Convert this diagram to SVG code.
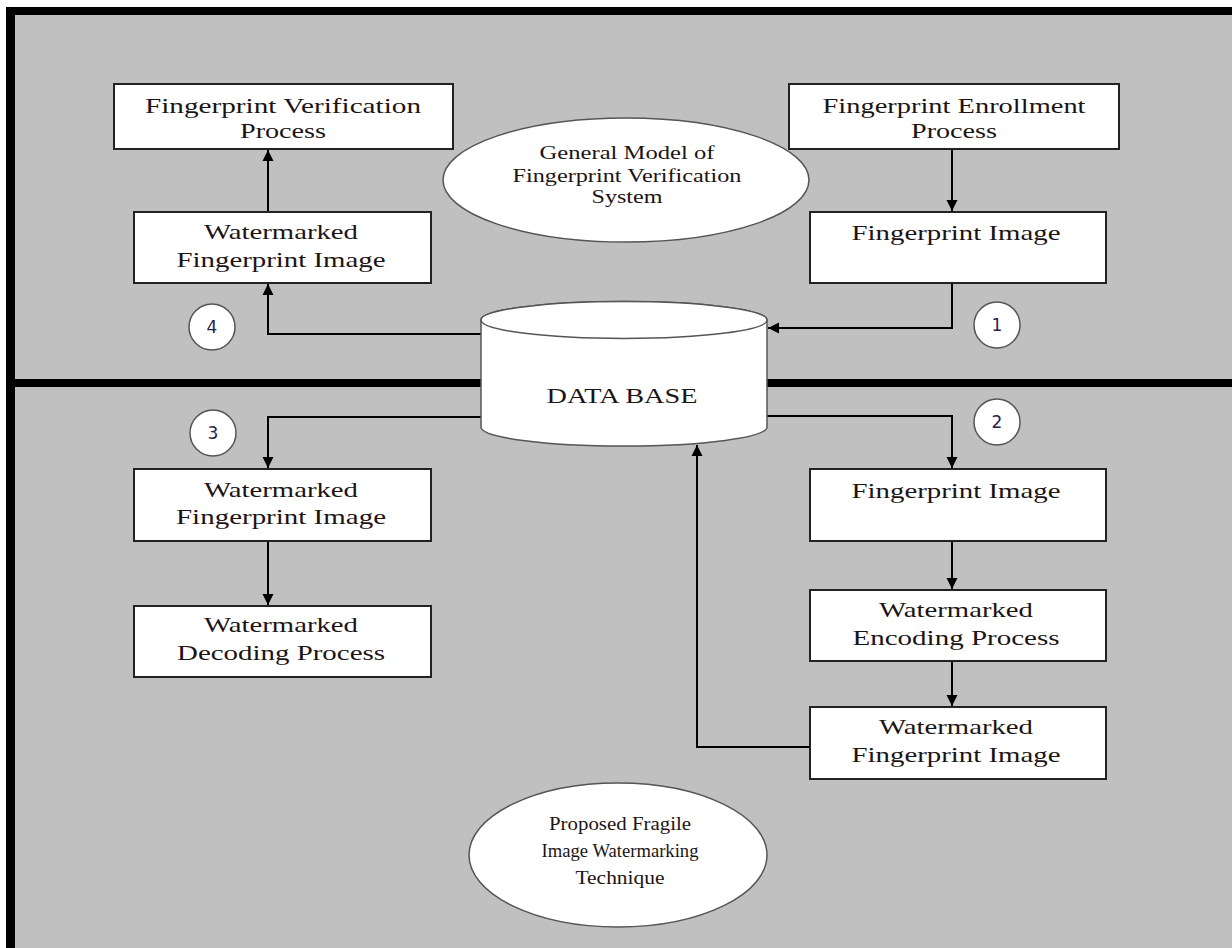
<svg xmlns="http://www.w3.org/2000/svg" width="1232" height="948" viewBox="0 0 1232 948">
  <style>
    .box { fill: #ffffff; stroke: #222222; stroke-width: 2; }
    .oval { fill: #ffffff; stroke: #555555; stroke-width: 1.5; }
    .num { fill: #ffffff; stroke: #555555; stroke-width: 1.5; }
    .lbl { font-family: "Liberation Serif", "Times New Roman", serif; font-size: 22px; fill: #1c1414; text-anchor: middle; }
    .sm { font-family: "Liberation Serif", "Times New Roman", serif; font-size: 18px; fill: #1c1414; text-anchor: middle; }
    .digit { font-family: "DejaVu Sans", Verdana, sans-serif; font-size: 17px; fill: #2a2050; text-anchor: middle; }
    .wire { fill: none; stroke: #000000; stroke-width: 2; marker-end: url(#arrow); }
  </style>
  <defs>
    <marker id="arrow" markerUnits="userSpaceOnUse" markerWidth="12" markerHeight="12" refX="11" refY="6" orient="auto">
      <path d="M0,0.5 L11,6 L0,11.5 z" fill="#000000"/>
    </marker>
  </defs>

  <!-- page, frame and the band separating the two sections -->
  <rect x="0" y="0" width="1232" height="948" fill="#ffffff"/>
  <rect x="6" y="7" width="1226" height="941" fill="#000000"/>
  <rect x="15" y="15" width="1217" height="933" fill="#c0c0c0"/>
  <rect x="15" y="379" width="1217" height="8" fill="#000000"/>

  <!-- connectors -->
  <g id="connectors">
    <path class="wire" d="M268,212 V150"/>
    <path class="wire" d="M952,149 V211"/>
    <path class="wire" d="M952,283 V328 H768"/>
    <path class="wire" d="M481,334 H268 V284"/>
    <path class="wire" d="M481,417 H268 V468"/>
    <path class="wire" d="M767,416 H952 V468"/>
    <path class="wire" d="M952,541 V589"/>
    <path class="wire" d="M952,661 V706"/>
    <path class="wire" d="M268,541 V605"/>
    <path class="wire" d="M810,747 H697 V445"/>
  </g>

  <!-- upper section: general model -->
  <g id="verification-process">
    <rect class="box" x="114" y="84" width="339" height="65"/>
    <text class="lbl" x="283" y="113" textLength="276" lengthAdjust="spacingAndGlyphs">Fingerprint Verification</text>
    <text class="lbl" x="283" y="138" textLength="86" lengthAdjust="spacingAndGlyphs">Process</text>
  </g>

  <g id="enrollment-process">
    <rect class="box" x="789" y="84" width="330" height="65"/>
    <text class="lbl" x="954" y="113" textLength="263" lengthAdjust="spacingAndGlyphs">Fingerprint Enrollment</text>
    <text class="lbl" x="954" y="138" textLength="86" lengthAdjust="spacingAndGlyphs">Process</text>
  </g>

  <g id="general-model">
    <ellipse class="oval" cx="626" cy="180" rx="183" ry="62"/>
    <text class="sm" x="627" y="159" textLength="175" lengthAdjust="spacingAndGlyphs">General Model of</text>
    <text class="sm" x="627" y="182" textLength="229" lengthAdjust="spacingAndGlyphs">Fingerprint Verification</text>
    <text class="sm" x="627" y="203" textLength="71" lengthAdjust="spacingAndGlyphs">System</text>
  </g>

  <g id="watermarked-image-top">
    <rect class="box" x="134" y="212" width="297" height="71"/>
    <text class="lbl" x="281" y="239" textLength="154" lengthAdjust="spacingAndGlyphs">Watermarked</text>
    <text class="lbl" x="281" y="267" textLength="209" lengthAdjust="spacingAndGlyphs">Fingerprint Image</text>
  </g>

  <g id="fingerprint-image-top">
    <rect class="box" x="810" y="212" width="296" height="71"/>
    <text class="lbl" x="956" y="240" textLength="209" lengthAdjust="spacingAndGlyphs">Fingerprint Image</text>
  </g>

  <g id="step-4">
    <circle class="num" cx="212" cy="327" r="23"/>
    <text class="digit" x="212" y="333">4</text>
  </g>
  <g id="step-1">
    <circle class="num" cx="997" cy="325" r="23"/>
    <text class="digit" x="997" y="331">1</text>
  </g>

  <!-- shared data store -->
  <g id="database">
    <path class="oval" d="M481,320 V427 A143,19 0 0 0 767,427 V320 A143,18.5 0 0 0 481,320 z"/>
    <ellipse class="oval" cx="624" cy="320" rx="143" ry="18.5"/>
    <text class="lbl" x="622" y="403" font-size="20" textLength="151" lengthAdjust="spacingAndGlyphs">DATA BASE</text>
  </g>

  <!-- lower section: proposed technique -->
  <g id="step-3">
    <circle class="num" cx="213" cy="433" r="23"/>
    <text class="digit" x="213" y="439">3</text>
  </g>
  <g id="step-2">
    <circle class="num" cx="997" cy="422" r="23"/>
    <text class="digit" x="997" y="428">2</text>
  </g>

  <g id="watermarked-image-left">
    <rect class="box" x="134" y="469" width="297" height="72"/>
    <text class="lbl" x="281" y="497" textLength="154" lengthAdjust="spacingAndGlyphs">Watermarked</text>
    <text class="lbl" x="281" y="524" textLength="210" lengthAdjust="spacingAndGlyphs">Fingerprint Image</text>
  </g>

  <g id="decoding-process">
    <rect class="box" x="134" y="606" width="297" height="71"/>
    <text class="lbl" x="281" y="632" textLength="154" lengthAdjust="spacingAndGlyphs">Watermarked</text>
    <text class="lbl" x="281" y="660" textLength="208" lengthAdjust="spacingAndGlyphs">Decoding Process</text>
  </g>

  <g id="fingerprint-image-right">
    <rect class="box" x="810" y="469" width="296" height="72"/>
    <text class="lbl" x="956" y="498" textLength="209" lengthAdjust="spacingAndGlyphs">Fingerprint Image</text>
  </g>

  <g id="encoding-process">
    <rect class="box" x="810" y="590" width="296" height="71"/>
    <text class="lbl" x="956" y="617" textLength="154" lengthAdjust="spacingAndGlyphs">Watermarked</text>
    <text class="lbl" x="956" y="645" textLength="207" lengthAdjust="spacingAndGlyphs">Encoding Process</text>
  </g>

  <g id="watermarked-image-right">
    <rect class="box" x="810" y="707" width="296" height="72"/>
    <text class="lbl" x="956" y="734" textLength="154" lengthAdjust="spacingAndGlyphs">Watermarked</text>
    <text class="lbl" x="956" y="762" textLength="209" lengthAdjust="spacingAndGlyphs">Fingerprint Image</text>
  </g>

  <g id="proposed-technique">
    <ellipse class="oval" cx="618" cy="855" rx="149" ry="72"/>
    <text class="sm" x="620" y="830" textLength="142" lengthAdjust="spacingAndGlyphs">Proposed Fragile</text>
    <text class="sm" x="620" y="857" textLength="157" lengthAdjust="spacingAndGlyphs">Image Watermarking</text>
    <text class="sm" x="620" y="884" textLength="89" lengthAdjust="spacingAndGlyphs">Technique</text>
  </g>
</svg>
